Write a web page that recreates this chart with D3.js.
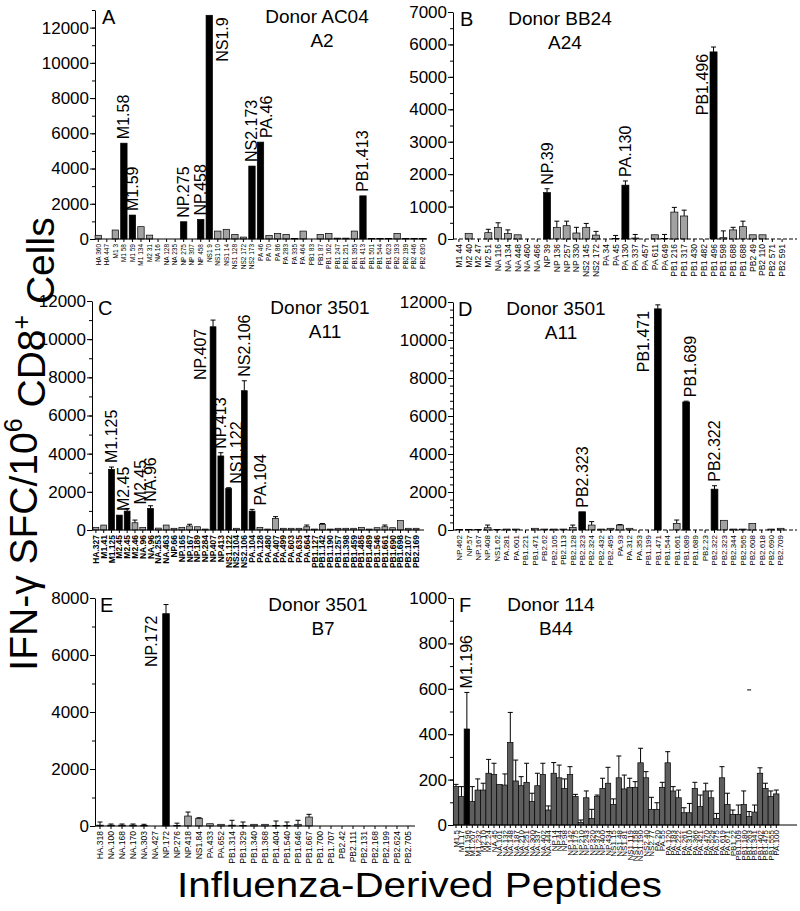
<!DOCTYPE html>
<html lang="en">
<head>
<meta charset="UTF-8">
<title>IFN-g responses to influenza peptides</title>
<script src="https://d3js.org/d3.v7.min.js"></script>
<style>
  body { margin: 0; background: #fff; }
  text { font-family: Arial, 'Liberation Sans', sans-serif; fill: #000; }
</style>
</head>
<body>
<script>
const width = 800, height = 911;

// ---- panel A : donor AC04, A2
const aCats = ["HA 360","HA 447","M1 3","M1 58","M1 59","M1 134","M2 31","NA 16","NA 128","NA 235",
  "NP 275","NP 307","NP 458","NS1 9","NS1 10","NS1 14","NS1 128","NS2 172","NS2 173","PA 46",
  "PA 70","PA 86","PA 283","PA 335","PA 464","PB1 83","PB1 87","PB1 162","PB1 247","PB1 251",
  "PB1 395","PB1 413","PB1 501","PB1 544","PB1 623","PB2 193","PB2 199","PB2 446","PB2 630"];
const aVals = [210,0,510,5440,1360,700,220,0,0,0, 980,0,1110,12700,450,550,260,110,4140,5500,
  200,320,260,30,450,0,260,320,50,50, 450,2450,30,30,30,320,30,30,30];
const aPos = [3,4,10,12,13,18,19,31];
const aLabels = [[3,"M1.58"],[4,"M1.59"],[10,"NP.275"],[12,"NP.458"],[13,"NS1.9"],[18,"NS2.173"],[19,"PA.46"],[31,"PB1.413"]];

// ---- panel B : donor BB24, A24
const bCats = ["M1 44","M2 40","M2 47","M2 51","NA 116","NA 134","NA 448","NA 460","NA 466","NP 39",
  "NP 136","NP 257","NP 330","NS2 145","NS2 172","PA 34","PA 45","PA 130","PA 337","PA 457",
  "PA 611","PA 649","PB1 216","PB1 317","PB1 430","PB1 482","PB1 496","PB1 598","PB1 688","PB1 688",
  "PB2 49","PB2 110","PB2 571","PB2 591"];
const bVals = [0,175,0,195,360,165,130,0,0,1430, 360,410,185,360,120,0,20,1660,30,0,
  130,20,830,710,0,0,5770,40,280,380, 130,130,0,0];
const bSd = [0,0,0,105,140,115,0,0,0,120, 190,140,175,120,115,0,90,130,110,0,
  0,120,145,180,0,0,150,210,80,170, 0,0,0,0];
const bPos = [9,17,26];
const bLabels = [[9,"NP.39"],[17,"PA.130"],[26,"PB1.496"]];

// ---- panel C : donor 3501, A11
const cCats = ["HA.327","M1.41","M1.125","M2.45","M2.45","M2.46","NA.96","NA.96","NA.253","NA.463",
  "NP.66","NP.165","NP.167","NP.189","NP.284","NP.407","NP.413","NS1.122","NS2.104","NS2.106",
  "PA.104","PA.128","PA.480","PA.407","PA.499","PA.603","PA.635","PA.664","PB1.127","PB1.142",
  "PB1.190","PB1.257","PB1.398","PB1.459","PB1.485","PB1.489","PB1.546","PB1.661","PB1.690","PB1.698",
  "PB2.107","PB2.169"];
const cVals = [140,260,3180,780,990,380,140,1130,100,260, 90,140,210,170,50,10650,3880,2175,90,7300,
  990,140,50,610,90,90,90,170,50,300, 50,90,90,90,140,50,120,170,120,500, 90,90];
const cSd = [0,0,120,0,140,140,0,140,0,0, 0,0,90,0,0,350,170,40,0,520,
  90,0,0,90,0,0,0,90,0,40, 0,0,0,0,0,0,0,90,0,0, 0,0];
const cPos = [2,3,4,7,15,16,17,19,20];
const cLabels = [[2,"M1.125"],[3,"M2.45"],[4,"M2.45"],[7,"NA.96"],[15,"NP.407"],[16,"NP.413"],[17,"NS1.122"],[19,"NS2.106"],[20,"PA.104"]];

// ---- panel D : donor 3501, A11
const dCats = ["NP.462","NP.57","NP.167","NP.408","NS1.62","PA.281","PA.601","PB1.221","PB1.471","PB2.62",
  "PB2.105","PB2.113","PB2.128","PB2.323","PB2.324","PB2.432","PB2.495","PA.93","PA.312","PA.353",
  "PB1.199","PB1.471","PB1.544","PB1.661","PB1.689","PB1.689","PB2.23","PB2.322","PB2.323","PB2.344",
  "PB2.565","PB2.608","PB2.618","PB2.690","PB2.709"];
const dVals = [30,30,20,120,20,50,50,0,90,50, 50,50,140,960,260,50,90,260,90,0,
  0,11640,0,350,6740,0,0,2150,510,50, 50,350,0,50,90];
const dSd = [0,0,0,140,0,0,0,0,0,0, 0,0,120,0,180,0,0,30,0,0,
  0,210,0,175,40,0,0,180,0,0, 0,0,0,0,0];
const dPos = [13,21,24,27];
const dLabels = [[13,"PB2.323"],[21,"PB1.471"],[24,"PB1.689"],[27,"PB2.322"]];

// ---- panel E : donor 3501, B7
const eCats = ["HA.318","NA.100","NA.168","NA.170","NA.303","NA.427","NP.172","NP.276","NP.418","NS1.84",
  "PA.433","PA.652","PB1.314","PB1.329","PB1.340","PB1.368","PB1.404","PB1.540","PB1.646","PB1.667",
  "PB1.700","PB1.707","PB2.42","PB2.111","PB2.131","PB2.168","PB2.199","PB2.624","PB2.705"];
const eVals = [30,30,30,30,20,0,7450,20,350,260, 80,60,30,20,60,60,20,20,60,315, 0,0,0,0,0,0,0,0,0];
const eSd = [110,40,40,40,40,0,320,80,140,30, 0,0,170,120,0,0,155,120,140,95, 0,0,0,0,0,0,0,0,0];
const ePos = [6];
const eLabels = [[6,"NP.172"]];

// ---- panel F : donor 114, B44
const fCats = ["M1.5","M1.17","M1.196","M1.207","M1.232","M2.10","M2.24","NA.45","NA.101","NA.132",
  "NA.148","NA.187","NA.210","NA.251","NA.300","NA.337","NA.402","NA.444","NP.14","NP.44",
  "NP.98","NP.142","NP.175","NP.210","NP.243","NP.320","NP.373","NP.400","NP.434","NS1.15",
  "NS1.48","NS1.81","NS1.119","NS1.158","NS1.190","NS2.40","NS2.77","PA.20","PA.55","PA.120",
  "PA.183","PA.222","PA.261","PA.310","PA.366","PA.421","PA.470","PA.529","PA.575","PA.619",
  "PA.671","PB1.22","PB1.109","PB1.180","PB1.263","PB1.341","PB1.402","PB1.475","PB1.555","PA.100"];
const fVals = [169,125,423,103,154,154,228,223,179,176, 364,194,173,188,103,173,223,66,228,208,
  161,223,125,12,120,29,125,161,184,91, 208,159,166,166,274,208,69,69,166,274,
  150,120,54,54,161,81,150,120,29,208, 91,47,47,91,37,57,228,161,125,137];
const fSd = [10,44,161,66,49,30,61,49,0,49, 132,92,40,84,37,55,49,18,47,56,
  42,34,10,10,30,40,7,45,70,24, 96,61,40,25,64,27,53,29,22,49,
  19,34,22,41,27,51,34,30,22,49, 49,19,41,59,22,31,24,23,25,17];
const fPos = [2];
const fLabels = [[2,"M1.196"]];
const fStray = [[54, 595]];

// ---- layout
const panels = [
  {key:"A", cats:aCats, vals:aVals, sd:null, pos:aPos, labels:aLabels,
   title:["Donor AC04","A2"], titleX:317, letterX:102, axisX:95, band:[94,427], axisEnd:427,
   y0:239, y1:10, yMax:13000, major:d3.range(0,12001,2000), minor:d3.range(0,13001,1000),
   tickFont:6.5, bold:false, dash:null, frac:0.75,
   side:{13:["right",13]}, nudge:{19:6}},
  {key:"B", cats:bCats, vals:bVals, sd:bSd, pos:bPos, labels:bLabels,
   title:["Donor BB24","A24"], titleX:560, letterX:460, axisX:453, band:[454,787], axisEnd:797,
   y0:239, y1:12, yMax:7000, major:d3.range(0,7001,1000), minor:d3.range(0,7001,500),
   tickFont:8.5, bold:false, dash:"4,2", frac:0.72,
   side:{26:["left",-11]}, nudge:{}},
  {key:"C", cats:cCats, vals:cVals, sd:cSd, pos:cPos, labels:cLabels,
   title:["Donor 3501","A11"], titleX:320, letterX:98, axisX:92, band:[92,420], axisEnd:424,
   y0:530, y1:301, yMax:12000, major:d3.range(0,12001,2000), minor:d3.range(0,12001,1000),
   tickFont:8.5, bold:true, dash:null, frac:0.75,
   side:{15:["left",-13]}, nudge:{3:4, 4:13, 17:8, 20:8}},
  {key:"D", cats:dCats, vals:dVals, sd:dSd, pos:dPos, labels:dLabels,
   title:["Donor 3501","A11"], titleX:556, letterX:458, axisX:453, band:[454.6,785.4], axisEnd:797,
   y0:530, y1:302, yMax:12000, major:d3.range(0,12001,2000), minor:d3.range(0,12001,400),
   tickFont:8, bold:false, dash:"4,2", frac:0.72,
   side:{21:["left",-14]}, nudge:{24:4}},
  {key:"E", cats:eCats, vals:eVals, sd:eSd, pos:ePos, labels:eLabels,
   title:["Donor 3501","B7"], titleX:318, letterX:100, axisX:95, band:[94.5,413.5], axisEnd:415,
   y0:826, y1:598, yMax:8000, major:d3.range(0,8001,2000), minor:d3.range(0,8001,1000),
   tickFont:8.5, bold:false, dash:null, frac:0.6,
   side:{6:["left",-15]}, nudge:{}},
  {key:"F", cats:fCats, vals:fVals, sd:fSd, pos:fPos, labels:fLabels,
   title:["Donor 114","B44"], titleX:551, letterX:459, axisX:453, band:[453.3,779], axisEnd:797,
   y0:825, y1:598, yMax:1000, major:d3.range(0,1001,200), minor:d3.range(0,1001,100),
   tickFont:8, bold:false, dash:null, frac:1, fill:"#5e5e5e",
   side:{}, nudge:{}, stray:fStray}
];

const svg = d3.select("body").append("svg")
  .attr("width", width).attr("height", height);

panels.forEach(draw);

function draw(p) {
  const g = svg.append("g");
  const idx = d3.range(p.cats.length);
  const x = d3.scaleBand().domain(idx).range(p.band).padding(0);
  const y = d3.scaleLinear().domain([0, p.yMax]).range([p.y0, p.y1]);
  const bw = x.bandwidth() * p.frac;
  const cx = i => x(i) + x.bandwidth() / 2;

  // y axis: minor then major ticks
  g.append("g").attr("transform", `translate(${p.axisX},0)`)
    .call(d3.axisLeft(y).tickValues(p.minor).tickSize(3).tickFormat(""))
    .call(s => s.select(".domain").remove());
  const ya = g.append("g").attr("transform", `translate(${p.axisX},0)`)
    .call(d3.axisLeft(y).tickValues(p.major).tickSize(5).tickSizeOuter(0).tickFormat(d3.format("d")));
  ya.selectAll("text").style("font-size", "17px").attr("x", -6);
  ya.selectAll("line, path").attr("stroke", "#000");

  // bars
  g.selectAll("rect.bar").data(idx.filter(i => p.vals[i] > 0)).join("rect")
    .attr("class", "bar")
    .attr("x", i => cx(i) - bw / 2)
    .attr("width", bw)
    .attr("y", i => y(p.vals[i]))
    .attr("height", i => p.y0 - y(p.vals[i]))
    .attr("fill", i => p.pos.includes(i) ? "#000" : (p.fill || "#a2a2a2"))
    .attr("stroke", "#000").attr("stroke-width", 0.7);

  // error bars (upper only)
  if (p.sd) {
    const ei = idx.filter(i => p.sd[i] > 0);
    g.selectAll("line.err").data(ei).join("line").attr("class", "err")
      .attr("x1", cx).attr("x2", cx)
      .attr("y1", i => y(p.vals[i])).attr("y2", i => y(p.vals[i] + p.sd[i]))
      .attr("stroke", "#000").attr("stroke-width", 1);
    g.selectAll("line.cap").data(ei).join("line").attr("class", "cap")
      .attr("x1", i => cx(i) - 2.5).attr("x2", i => cx(i) + 2.5)
      .attr("y1", i => y(p.vals[i] + p.sd[i])).attr("y2", i => y(p.vals[i] + p.sd[i]))
      .attr("stroke", "#000").attr("stroke-width", 1);
  }

  if (p.stray) {
    g.selectAll("line.stray").data(p.stray).join("line")
      .attr("x1", d => cx(d[0]) - 2).attr("x2", d => cx(d[0]) + 2)
      .attr("y1", d => y(d[1])).attr("y2", d => y(d[1]))
      .attr("stroke", "#000").attr("stroke-width", 1);
  }

  // x axis
  const xa = g.append("g").attr("transform", `translate(0,${p.y0})`)
    .call(d3.axisBottom(x).tickSize(3).tickSizeOuter(0).tickFormat(i => p.cats[i]));
  xa.select(".domain").remove();
  xa.selectAll("text")
    .attr("transform", "rotate(-90)")
    .attr("text-anchor", "end")
    .attr("x", -5).attr("y", 0).attr("dy", "0.35em")
    .style("font-size", p.tickFont + "px")
    .style("font-weight", p.bold ? "bold" : "normal");
  g.append("line")
    .attr("x1", p.axisX).attr("x2", p.axisEnd)
    .attr("y1", p.y0).attr("y2", p.y0)
    .attr("stroke", "#000").attr("stroke-width", 1.2)
    .attr("stroke-dasharray", p.dash);

  // peptide labels
  p.labels.forEach(([i, t]) => {
    const top = y(p.vals[i] + (p.sd ? p.sd[i] : 0));
    const s = p.side[i];
    let lx, ly, anchor;
    if (s) { lx = cx(i) + s[1]; ly = y(p.vals[i]) + 2; anchor = "end"; }
    else { lx = cx(i) + (p.nudge[i] || 0); ly = top - 4; anchor = "start"; }
    g.append("text")
      .attr("transform", `translate(${lx},${ly}) rotate(-90)`)
      .attr("text-anchor", anchor)
      .attr("dominant-baseline", "central")
      .style("font-size", "16px")
      .text(t);
  });

  // panel letter and donor title
  g.append("text").attr("x", p.letterX).attr("y", p.y1 + 14)
    .style("font-size", "20px").text(p.key);
  g.append("text").attr("x", p.titleX).attr("y", p.y1 + 13)
    .attr("text-anchor", "middle").style("font-size", "19px").text(p.title[0]);
  g.append("text").attr("x", p.titleX + 5).attr("y", p.y1 + 37)
    .attr("text-anchor", "middle").style("font-size", "19px").text(p.title[1]);
}

// axis titles
const yt = svg.append("text")
  .attr("transform", "translate(37,444) rotate(-90)")
  .attr("text-anchor", "middle").style("font-size", "39px");
yt.append("tspan").text("IFN-\u03b3 SFC/10");
yt.append("tspan").attr("dy", "-0.6em").style("font-size", "25px").text("6");
yt.append("tspan").attr("dy", "0.6em").text(" CD8");
yt.append("tspan").attr("dy", "-0.6em").style("font-size", "25px").text("+");
yt.append("tspan").attr("dy", "0.6em").text(" Cells");

svg.append("text")
  .attr("x", 177).attr("y", 897)
  .attr("textLength", 485).attr("lengthAdjust", "spacingAndGlyphs")
  .style("font-size", "35px")
  .text("Influenza-Derived Peptides");
</script>
</body>
</html>
